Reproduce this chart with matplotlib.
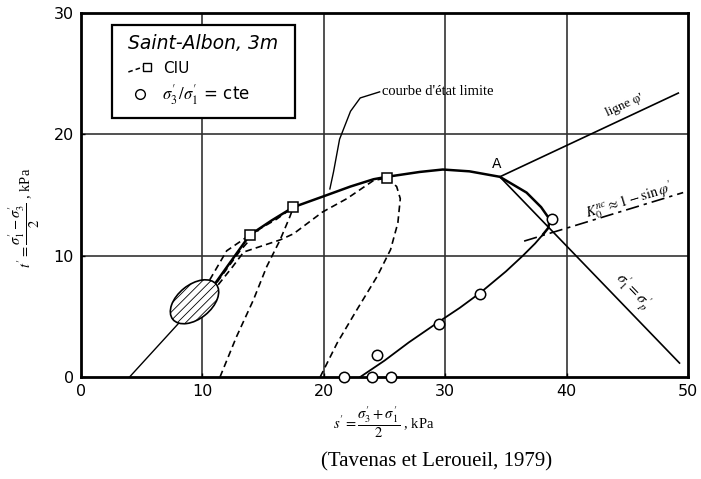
import matplotlib
matplotlib.use("Agg")
import matplotlib.pyplot as plt
from matplotlib.patches import Ellipse, Rectangle

plt.rcParams['mathtext.fontset'] = 'stix'
plt.rcParams['hatch.linewidth'] = 0.6

# ---------------- data (s', t' in kPa) ----------------
xticks = [0, 10, 20, 30, 40, 50]
yticks = [0, 10, 20, 30]

# initial segment toward the hatched zone
init_s = [4.0, 8.2]
init_t = [0.0, 4.6]

# limit state curve (solid)
limit_s = [10.9, 12.4, 13.9, 15.7, 17.5, 20.0, 22.2, 24.1, 25.2, 27.9, 29.8,
           32.0, 34.5, 36.7, 37.9, 38.6, 38.5, 38.1]
limit_t = [7.5, 9.6, 11.7, 12.9, 14.0, 14.9, 15.7, 16.3, 16.5, 16.9, 17.1,
           16.95, 16.5, 15.2, 14.0, 13.0, 12.3, 11.8]

# stress path sigma3'/sigma1' = cte (solid)
path_s = [23.0, 25.0, 27.0, 29.4, 31.2, 32.9, 35.0, 36.4, 37.4, 38.1]
path_t = [0.0, 1.35, 2.85, 4.5, 5.7, 6.95, 8.7, 10.0, 11.0, 11.8]

# CIU dashed stress paths
d1_s = [10.6, 12.0, 13.9]
d1_t = [8.0, 10.4, 11.7]
d2_s = [11.2, 13.1, 14.7, 16.1, 17.5]
d2_t = [7.8, 10.4, 12.2, 13.0, 14.0]
d3_s = [11.3, 12.5, 13.4, 16.4, 17.5, 19.9, 21.9, 24.1, 25.2]
d3_t = [7.6, 9.1, 10.3, 11.3, 11.8, 13.6, 14.7, 16.2, 16.4]
d4_s = [11.45, 12.8, 14.2, 15.3, 16.4, 17.2, 17.5]
d4_t = [0.0, 3.3, 6.35, 9.1, 11.3, 13.2, 14.0]
d5_s = [19.7, 21.1, 22.7, 24.4, 25.5, 26.1, 26.3, 26.0, 25.3]
d5_t = [0.0, 2.8, 5.5, 8.3, 10.5, 12.7, 14.7, 15.7, 16.3]

# markers
sq_s = [13.9, 17.5, 25.2]
sq_t = [11.7, 14.0, 16.4]
circ_s = [21.7, 24.0, 25.5, 24.4, 29.5, 32.9, 38.8]
circ_t = [0.0, 0.0, 0.0, 1.8, 4.4, 6.85, 13.0]

# point A and straight lines
A_s, A_t = 34.5, 16.5
phi_s = [34.5, 49.2]
phi_t = [16.5, 23.4]
k0_s = [36.5, 49.6]
k0_t = [11.2, 15.2]
sp_s = [34.5, 49.3]
sp_t = [16.5, 1.15]

# leader line for "courbe d'état limite"
leader_s = [24.6, 23.0, 22.2, 21.3, 20.8, 20.5]
leader_t = [23.5, 23.0, 21.9, 19.6, 16.9, 15.5]

# hatched zone
zone_center = (9.35, 6.2)
zone_w, zone_h, zone_ang = 4.6, 2.8, 39

# ---------------- figure ----------------
fig = plt.figure(figsize=(7.01, 4.79), dpi=100)
ax = fig.add_axes([81/701, 1-377/479, (688-81)/701, (377-13)/479])
ax.set_xlim(0, 50)
ax.set_ylim(0, 30)

for v in [10, 20, 30, 40]:
    ax.axvline(v, color='#333333', lw=1.2, zorder=1)
for v in [10, 20]:
    ax.axhline(v, color='#333333', lw=1.2, zorder=1)

for sp in ax.spines.values():
    sp.set_linewidth(2.0)

ax.set_xticks(xticks)
ax.set_yticks(yticks)
ax.tick_params(length=3, direction='in', width=1, labelsize=11.5, pad=5)
for lab in ax.get_xticklabels() + ax.get_yticklabels():
    lab.set_family('DejaVu Sans')

ax.plot(init_s, init_t, color='black', lw=1.0, zorder=3)
ell = Ellipse(zone_center, zone_w, zone_h, angle=zone_ang, facecolor='white',
              edgecolor='black', lw=1.2, hatch='////', zorder=4)
ax.add_patch(ell)

ax.plot(limit_s, limit_t, color='black', lw=1.8, zorder=3)
ax.plot(path_s, path_t, color='black', lw=1.3, zorder=3)

dash = (0, (4, 2.5))
for xs, ys in [(d1_s, d1_t), (d2_s, d2_t), (d3_s, d3_t), (d4_s, d4_t), (d5_s, d5_t)]:
    ax.plot(xs, ys, color='black', lw=1.2, linestyle=dash, zorder=3)

ax.plot(phi_s, phi_t, color='black', lw=1.2, zorder=3)
ax.plot(sp_s, sp_t, color='black', lw=1.2, zorder=3)
ax.plot(k0_s, k0_t, color='black', lw=1.2, linestyle=(0, (8, 3, 2, 3)), zorder=3)

ax.plot(leader_s, leader_t, color='black', lw=1.0, zorder=3)

ax.plot(sq_s, sq_t, linestyle='none', marker='s', ms=6.5, mfc='white',
        mec='black', mew=1.1, zorder=5, clip_on=False)
ax.plot(circ_s, circ_t, linestyle='none', marker='o', ms=7.5, mfc='white',
        mec='black', mew=1.1, zorder=5, clip_on=False)

# annotations
ax.text(A_s - 0.3, A_t + 0.5, 'A', ha='center', va='bottom', fontsize=10,
        family='DejaVu Sans', zorder=6)
ax.text(24.8, 23.5, "courbe d'état limite", ha='left', va='center',
        fontsize=10.5, family='Liberation Serif', zorder=6)
ax.text(44.8, 22.4, "ligne φ'", ha='center', va='center', rotation=25,
        fontsize=9.5, family='Liberation Serif', zorder=6)
ax.text(45.2, 14.5, r"$K_0^{nc} \approx 1 - \sin\varphi^{\prime}$", ha='center',
        va='center', rotation=17, fontsize=10.5, zorder=6)
ax.text(45.4, 7.0, r"$\sigma^{\prime}_1 = \sigma^{\prime}_p$", ha='center',
        va='center', rotation=-46, fontsize=11, zorder=6)

# legend box
ax.add_patch(Rectangle((0.051, 0.7115), 0.3015, 0.2555, transform=ax.transAxes,
                       facecolor='white', edgecolor='black', lw=1.6, zorder=6))
ax.text(0.077, 0.915, 'Saint-Albon, 3m', transform=ax.transAxes, ha='left',
        va='center', fontsize=13.5, style='italic', family='DejaVu Sans', zorder=7)
ax.plot([0.078, 0.103], [0.838, 0.852], transform=ax.transAxes, color='black',
        lw=1.1, linestyle=(0, (3, 2)), zorder=7)
ax.plot([0.109], [0.852], transform=ax.transAxes, marker='s', ms=6, mfc='white',
        mec='black', mew=1.0, zorder=7, linestyle='none')
ax.text(0.135, 0.848, 'CIU', transform=ax.transAxes, ha='left', va='center',
        fontsize=11, family='DejaVu Sans', zorder=7)
ax.plot([0.097], [0.777], transform=ax.transAxes, marker='o', ms=7, mfc='white',
        mec='black', mew=1.0, zorder=7, linestyle='none')
ax.text(0.133, 0.777, r"$\sigma^{\prime}_3\,/\sigma^{\prime}_1$ = cte",
        transform=ax.transAxes, ha='left', va='center', fontsize=12,
        family='DejaVu Sans', zorder=7)

# axis labels
fig.text(384/701, 1-422/479,
         r"$s^{\prime} = \dfrac{\sigma^{\prime}_3 + \sigma^{\prime}_1}{2}$ , kPa",
         ha='center', va='center', fontsize=10.5, family='Liberation Serif')
fig.text(24/701, 1-218/479,
         r"$t^{\prime} = \dfrac{\sigma^{\prime}_1 - \sigma^{\prime}_3}{2}$ , kPa",
         ha='center', va='center', fontsize=10.5, rotation=90,
         family='Liberation Serif')
fig.text(437/701, 1-462/479, '(Tavenas et Leroueil, 1979)', ha='center',
         va='center', fontsize=15, family='Liberation Serif')

fig.savefig('out.png', dpi=100)
